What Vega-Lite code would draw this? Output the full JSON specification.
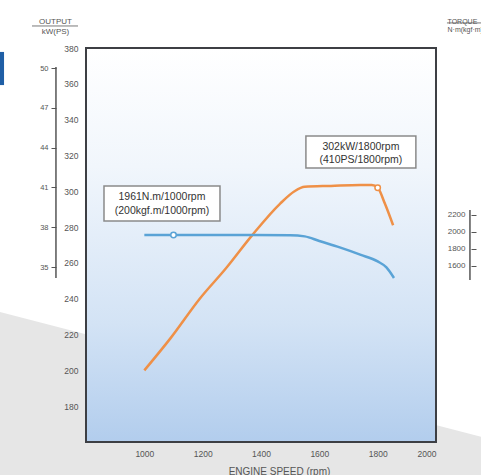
{
  "$schema": "https://vega.github.io/schema/vega-lite/v6.json",
  "width": 350,
  "height": 394,
  "autosize": {"type": "none"},
  "padding": {"left": 86, "top": 48, "right": 45, "bottom": 33},
  "background": "#ffffff",
  "config": {"view": {"stroke": null}, "font": "Liberation Sans"},
  "resolve": {"scale": {"x": "independent", "y": "independent"}, "axis": {"x": "independent", "y": "independent"}},
  "layer": [
    {
      "encoding": {
        "x": {"field": "rpm", "type": "quantitative", "scale": {"domain": [800, 2000], "nice": false, "zero": false}, "axis": null},
        "y": {"field": "power", "type": "quantitative", "scale": {"domain": [160, 380], "nice": false, "zero": false}, "axis": null}
      },
      "layer": [
        {
          "data": {"values": [{"rpm": 471, "power": 234.0, "power2": 120}, {"rpm": 2189, "power": 161.4, "power2": 120}]},
          "mark": {"type": "area", "color": "#e6e6e6"},
          "encoding": {"y2": {"field": "power2"}}
        },
        {
          "data": {"values": [{"rpm": 488, "rpm2": 519, "power": 377.8, "power2": 359.3}]},
          "mark": {"type": "rect", "color": "#1f5fa6"},
          "encoding": {"x2": {"field": "rpm2"}, "y2": {"field": "power2"}}
        }
      ]
    },
    {
      "data": {"values": [{}]},
      "mark": {"type": "rect", "fill": {"gradient": "linear", "x1": 0, "y1": 0, "x2": 0, "y2": 1, "stops": [{"offset": 0, "color": "#ffffff"}, {"offset": 0.3, "color": "#f1f6fc"}, {"offset": 0.7, "color": "#d3e3f5"}, {"offset": 1, "color": "#b2cded"}]}},
      "encoding": {
        "x": {"datum": 800, "type": "quantitative", "scale": {"domain": [800, 2000], "nice": false, "zero": false}, "axis": null},
        "x2": {"datum": 2000},
        "y": {"datum": 160, "type": "quantitative", "scale": {"domain": [160, 380], "nice": false, "zero": false}, "axis": null},
        "y2": {"datum": 380}
      }
    },
    {
      "data": {"values": [{"rpm": 697, "scaleTop": 50.08, "scaleBottom": 34.17}]},
      "mark": {"type": "rule", "color": "#555555", "strokeWidth": 1.5},
      "encoding": {
        "x": {"field": "rpm", "type": "quantitative", "scale": {"domain": [800, 2000], "nice": false, "zero": false}, "axis": null},
        "y": {"field": "scaleTop", "type": "quantitative", "scale": {"domain": [21.81, 51.51], "nice": false, "zero": false},
          "axis": {"orient": "left", "offset": 30, "zindex": 2, "values": [35, 38, 41, 44, 47, 50], "format": "d", "domain": false, "ticks": true, "tickSize": 5, "tickColor": "#555555", "labelPadding": 3, "labelFontSize": 7.5, "labelColor": "#555555", "grid": false, "title": null}},
        "y2": {"field": "scaleBottom"}
      }
    },
    {
      "encoding": {
        "x": {"field": "rpm", "type": "quantitative", "scale": {"domain": [800, 2000], "nice": false, "zero": false},
          "axis": {"zindex": 2, "values": [1000, 1200, 1400, 1600, 1800, 2000], "format": "d", "domain": false, "ticks": false, "grid": false, "labelPadding": 7, "labelFontSize": 8.5, "labelColor": "#555555", "title": "ENGINE SPEED (rpm)", "titleFontSize": 10, "titleFontWeight": "normal", "titleColor": "#555555", "titleX": 193, "titleY": 29, "titleBaseline": "middle"}},
        "y": {"field": "power", "type": "quantitative", "scale": {"domain": [160, 380], "nice": false, "zero": false},
          "axis": {"orient": "left", "zindex": 2, "values": [180, 200, 220, 240, 260, 280, 300, 320, 340, 360, 380], "format": "d", "domain": false, "ticks": false, "grid": false, "labelPadding": 8, "labelFontSize": 8.5, "labelColor": "#555555", "title": ["OUTPUT", "kW(PS)"], "titleAngle": 0, "titleAlign": "center", "titleBaseline": "middle", "titleX": -31, "titleY": -27, "titleFontSize": 8, "titleFontWeight": "normal", "titleColor": "#555555", "titleLineHeight": 10}}
      },
      "layer": [
        {
          "data": {"values": [
            {"rpm": 1000, "power": 200}, {"rpm": 1090, "power": 218}, {"rpm": 1190, "power": 240},
            {"rpm": 1280, "power": 257}, {"rpm": 1370, "power": 275.5}, {"rpm": 1465, "power": 293},
            {"rpm": 1515, "power": 300}, {"rpm": 1550, "power": 302.5}, {"rpm": 1640, "power": 303},
            {"rpm": 1740, "power": 303.5}, {"rpm": 1780, "power": 303.5}, {"rpm": 1800, "power": 302},
            {"rpm": 1825, "power": 293}, {"rpm": 1853, "power": 281}
          ]},
          "mark": {"type": "line", "color": "#ef9047", "strokeWidth": 2.5, "interpolate": "monotone"}
        },
        {
          "data": {"values": [{"rpm": 1800, "power": 302}]},
          "mark": {"type": "point", "filled": true, "fill": "#ffffff", "stroke": "#ef9047", "strokeWidth": 1.5, "size": 30, "opacity": 1}
        },
        {
          "data": {"values": [
            {"rpm": 861.7, "rpm2": 1259.4, "power": 303.0, "power2": 283.4},
            {"rpm": 1554, "rpm2": 1931, "power": 330.9, "power2": 313.0}
          ]},
          "mark": {"type": "rect", "fill": "#ffffff", "stroke": "#8a8a8a", "strokeWidth": 1.5},
          "encoding": {"x2": {"field": "rpm2"}, "y2": {"field": "power2"}}
        },
        {
          "data": {"values": [
            {"rpm": 1060.5, "power": 296.8, "label": "1961N.m/1000rpm"},
            {"rpm": 1060.5, "power": 289.0, "label": "(200kgf.m/1000rpm)"},
            {"rpm": 1742.5, "power": 324.7, "label": "302kW/1800rpm"},
            {"rpm": 1742.5, "power": 317.5, "label": "(410PS/1800rpm)"}
          ]},
          "mark": {"type": "text", "align": "center", "baseline": "middle", "fontSize": 10.5, "color": "#333333"},
          "encoding": {"text": {"field": "label"}}
        },
        {
          "data": {"values": [
            {"rpm": 614.9, "rpm2": 772.6, "power": 392.3},
            {"rpm": 2037.6, "rpm2": 2185, "power": 394.0}
          ]},
          "mark": {"type": "rule", "color": "#555555", "strokeWidth": 0.8},
          "encoding": {"x2": {"field": "rpm2"}}
        }
      ]
    },
    {
      "encoding": {
        "x": {"field": "rpm", "type": "quantitative", "scale": {"domain": [800, 2000], "nice": false, "zero": false}, "axis": null},
        "y": {"field": "torque", "type": "quantitative", "scale": {"domain": [-474, 4161], "nice": false, "zero": false},
          "axis": {"orient": "right", "offset": 35, "zindex": 2, "values": [1600, 1800, 2000, 2200], "format": "d", "domain": false, "ticks": true, "tickSize": 5, "tickColor": "#555555", "labelAlign": "right", "labelPadding": -11, "labelFontSize": 8, "labelColor": "#555555", "grid": false, "title": ["TORQUE", "N·m(kgf·m)"], "titleAngle": 0, "titleAlign": "left", "titleBaseline": "middle", "titleX": -24, "titleY": -27, "titleFontSize": 7, "titleFontWeight": "normal", "titleColor": "#555555", "titleLineHeight": 8}}
      },
      "layer": [
        {
          "data": {"values": [
            {"rpm": 1000, "torque": 1961}, {"rpm": 1100, "torque": 1961}, {"rpm": 1300, "torque": 1961},
            {"rpm": 1500, "torque": 1958}, {"rpm": 1550, "torque": 1945}, {"rpm": 1600, "torque": 1890},
            {"rpm": 1670, "torque": 1815}, {"rpm": 1740, "torque": 1730}, {"rpm": 1800, "torque": 1650},
            {"rpm": 1830, "torque": 1580}, {"rpm": 1856, "torque": 1455}
          ]},
          "mark": {"type": "line", "color": "#5aa3d6", "strokeWidth": 2.5, "interpolate": "monotone"}
        },
        {
          "data": {"values": [{"rpm": 1100, "torque": 1961}]},
          "mark": {"type": "point", "filled": true, "fill": "#ffffff", "stroke": "#5aa3d6", "strokeWidth": 1.5, "size": 30, "opacity": 1}
        },
        {
          "data": {"values": [{"rpm": 2116.4, "torque": 2255, "torque2": 1432}]},
          "mark": {"type": "rule", "color": "#555555", "strokeWidth": 1.5},
          "encoding": {"y2": {"field": "torque2"}}
        }
      ]
    },
    {
      "data": {"values": [{}]},
      "mark": {"type": "rect", "fill": "transparent", "stroke": "#3d3f44", "strokeWidth": 2},
      "encoding": {
        "x": {"datum": 800, "type": "quantitative", "scale": {"domain": [800, 2000], "nice": false, "zero": false}, "axis": null},
        "x2": {"datum": 2000},
        "y": {"datum": 160, "type": "quantitative", "scale": {"domain": [160, 380], "nice": false, "zero": false}, "axis": null},
        "y2": {"datum": 380}
      }
    }
  ]
}
